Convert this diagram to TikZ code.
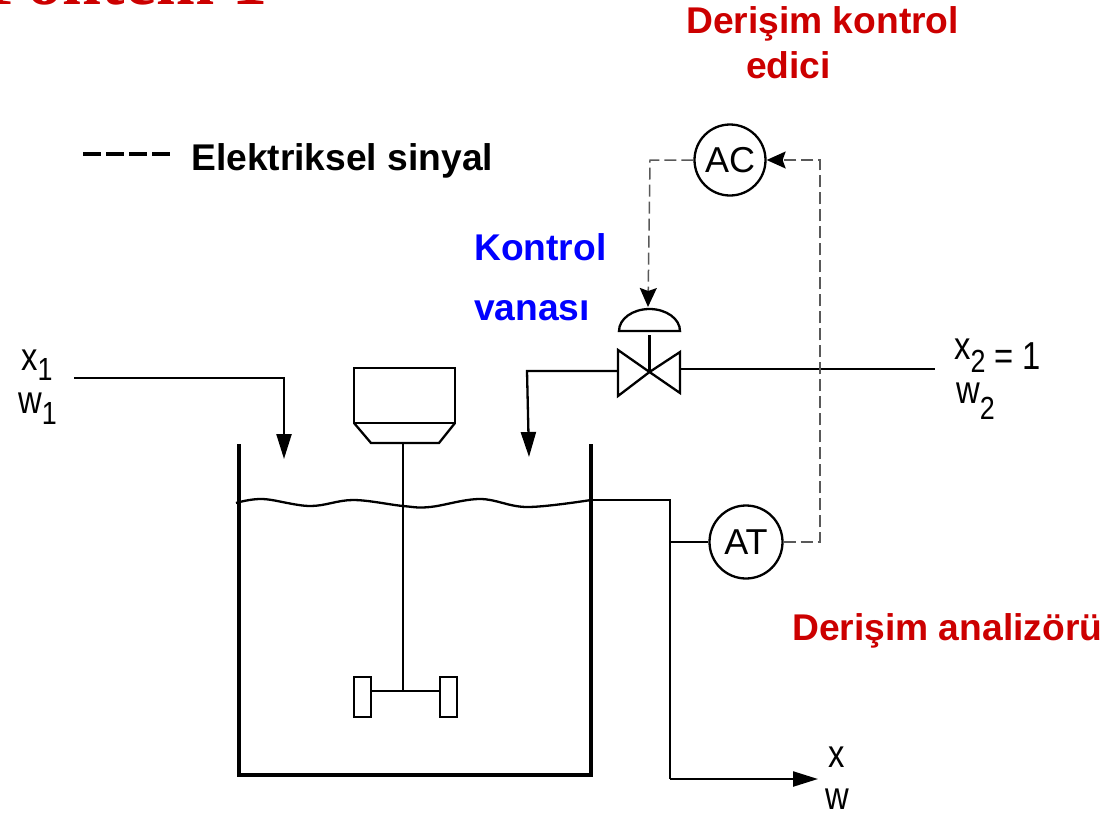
\documentclass[tikz,border=0pt]{standalone}
\usepackage{fontspec}
\setmainfont{Liberation Sans}
\newfontfamily\serifttl{Liberation Serif}
\usetikzlibrary{arrows.meta}
\newcommand{\fs}[1]{\fontsize{#1}{#1}\selectfont}
\newcommand{\nar}[1]{\scalebox{0.84}[1]{#1}}
\definecolor{darkred}{RGB}{204,0,0}
\tikzset{
  pipe/.style={line width=2.3pt,black,line join=miter},
  wall/.style={line width=4.5pt,black},
  sig/.style={line width=1.5pt,black!65,dash pattern=on 12pt off 5pt},
  bighead/.style={-{Stealth[length=25pt,width=15pt,inset=0pt]}},
  sighead/.style={-{Stealth[length=19pt,width=17pt,inset=3pt,black]}},
  inst/.style={circle,draw,line width=2.3pt,inner sep=0pt,font=\fs{36}},
  lbl/.style={anchor=base west,inner sep=0pt,font=\fs{39}},
  redlbl/.style={anchor=base west,inner sep=0pt,font=\fs{37.2}\bfseries,text=darkred},
  bluelbl/.style={anchor=base west,inner sep=0pt,font=\fs{37.2}\bfseries,text=blue},
  blacklbl/.style={anchor=base west,inner sep=0pt,font=\fs{37.2}\bfseries,text=black},
}
\begin{document}
\begin{tikzpicture}[x=1pt,y=-1pt]
\useasboundingbox (0,0) rectangle (1108,814);
% clipped title
\begin{scope}
\clip (0,0) rectangle (1108,814);
\node[anchor=base west,inner sep=0pt,font=\serifttl\bfseries\fs{70},text=darkred] (title) at (-15,4) {Pontem 1};
\end{scope}

% labels
\node[redlbl] (t1) at (686,33) {Derişim kontrol};
\node[redlbl] (t2) at (746,78) {edici};
\node[redlbl] (t3) at (792,640) {Derişim analizörü};
\node[bluelbl] (t4) at (474,260) {Kontrol};
\node[bluelbl] (t5) at (474,320) {vanası};
\node[blacklbl] (t6) at (191,170) {Elektriksel sinyal};
\coordinate (lega) at (83,154);
\coordinate (legb) at (170,154);
\draw[line width=4pt,dash pattern=on 18pt off 5pt] (lega) -- (legb);

\node[lbl] (x1) at (21,370) {\nar{x\raisebox{-10pt}{\fs{32}1}}};
\node[lbl] (w1) at (18,413) {\nar{w\raisebox{-11pt}{\fs{32}1}}};
\node[lbl] (x2) at (954,359) {\nar{x\raisebox{-13pt}{\fs{32}2}\raisebox{-10pt}{ = 1}}};
\node[lbl] (w2) at (956,403) {\nar{w\raisebox{-16pt}{\fs{32}2}}};
\node[lbl] (x3) at (828,767) {\nar{x}};
\node[lbl] (w3) at (825,809) {\nar{w}};

% instruments
\node[inst,minimum size=71pt] (AC) at (730,160) {AC};
\node[inst,minimum size=73pt] (AT) at (746,542) {AT};

% tank
\coordinate (tl) at (239,444);
\coordinate (tr) at (591,444);
\coordinate (bl) at (239,775);
\coordinate (br) at (591,775);
\draw[wall,line join=miter] (tl) -- (bl) -- (br) -- (tr);

% liquid surface and outlet
\coordinate (sj) at (670,500);
\coordinate (oj) at (670,542);
\coordinate (oc) at (670,779);
\coordinate (otip) at (818,779);
\draw[pipe] plot[smooth,tension=0.6] coordinates {(236,503) (263,499) (310,506) (353,500) (403,506) (430,507) (480,499) (527,507) (591,500)};
\draw[pipe] (591,500) -- (sj) -- (oc);
\draw[pipe,bighead] (oc) -- (otip);
\draw[pipe] (oj) -- (AT.west);

% agitator
\coordinate (mot1) at (354,368);
\coordinate (mot2) at (455,423);
\coordinate (sh1) at (403,443);
\coordinate (sh2) at (403,691);
\draw[pipe] (mot1) rectangle (mot2);
\draw[pipe] (354,423) -- (371,443) -- (439,443) -- (455,423);
\draw[pipe] (sh1) -- (sh2);
\node[draw,line width=2.3pt,inner sep=0pt,minimum width=17pt,minimum height=40pt] (padl) at (362.5,697) {};
\node[draw,line width=2.3pt,inner sep=0pt,minimum width=17pt,minimum height=40pt] (padr) at (448.5,697) {};
\draw[pipe] (padl.east |- sh2) -- (padr.west |- sh2);

% inlet 1
\coordinate (i1a) at (74,378);
\coordinate (i1b) at (284,378);
\coordinate (i1c) at (284,459);
\draw[pipe,bighead] (i1a) -- (i1b) -- (i1c);

% valve
\coordinate (vc) at (649.5,372);
\draw[pipe,line join=miter] (vc) -- (618,350) -- (618,396) -- cycle;
\draw[pipe,line join=miter] (vc) -- (680,352) -- (680,393) -- cycle;
\draw[pipe] (619,331) arc[start angle=180,end angle=0,x radius=30.5pt,y radius=22pt] -- cycle;
\coordinate (stem) at (649.5,335);
\draw[pipe] (vc) -- (stem);
\coordinate (vl) at (618,371);
\coordinate (i2a) at (527,371);
\coordinate (i2b) at (529,457);
\draw[pipe,bighead] (vl) -- (i2a) -- (i2b);
\coordinate (vr) at (681,369);
\coordinate (vre) at (935,369);
\draw[pipe] (vr) -- (vre);

% signals
\coordinate (s1) at (650,160);
\coordinate (s2) at (648,307);
\coordinate (s3) at (820,160);
\coordinate (s4) at (820,542);
\draw[sig,sighead] (AC.west) -- (s1) -- (s2);
\draw[sig,sighead] (AT.east) -- (s4) -- (s3) -- (AC.east);
\end{tikzpicture}
\end{document}
